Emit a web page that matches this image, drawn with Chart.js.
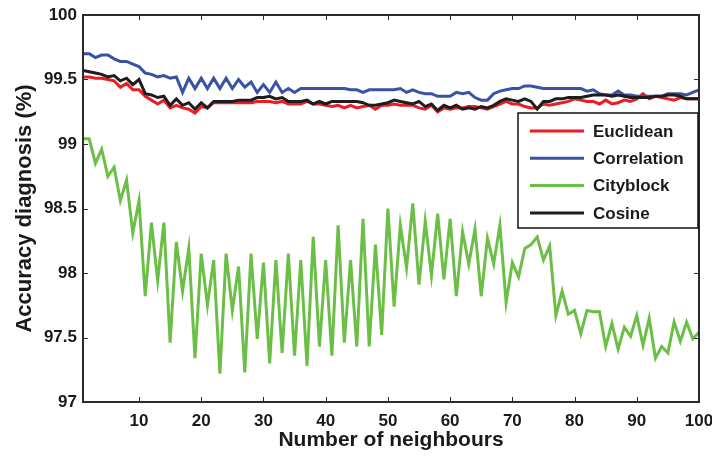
<!DOCTYPE html>
<html>
<head>
<meta charset="utf-8">
<script src="https://cdn.jsdelivr.net/npm/chart.js@4/dist/chart.umd.min.js"></script>
<style>
html,body{margin:0;padding:0;background:#fff;}
#wrap{width:712px;height:456px;position:relative;}
</style>
</head>
<body>
<div id="wrap"><canvas id="c" width="712" height="456"></canvas></div>
<script>
// ---- data ----
const neighbours = [1,2,3,4,5,6,7,8,9,10,11,12,13,14,15,16,17,18,19,20,21,22,23,24,25,26,27,28,29,30,31,32,33,34,35,36,37,38,39,40,41,42,43,44,45,46,47,48,49,50,51,52,53,54,55,56,57,58,59,60,61,62,63,64,65,66,67,68,69,70,71,72,73,74,75,76,77,78,79,80,81,82,83,84,85,86,87,88,89,90,91,92,93,94,95,96,97,98,99,100];

const euclidean = [
 99.52,99.52,99.51,99.51,99.50,99.49,99.44,99.47,99.42,99.42,
 99.37,99.34,99.31,99.34,99.28,99.30,99.28,99.27,99.24,99.29,
 99.28,99.32,99.32,99.32,99.32,99.32,99.32,99.32,99.33,99.33,
 99.33,99.32,99.33,99.31,99.31,99.31,99.33,99.31,99.31,99.30,
 99.29,99.30,99.28,99.30,99.28,99.29,99.30,99.27,99.30,99.30,
 99.31,99.30,99.30,99.30,99.28,99.27,99.30,99.25,99.28,99.27,
 99.28,99.28,99.29,99.29,99.28,99.27,99.29,99.31,99.33,99.31,
 99.31,99.29,99.28,99.28,99.31,99.30,99.31,99.32,99.33,99.35,
 99.34,99.33,99.33,99.31,99.34,99.31,99.32,99.34,99.33,99.35,
 99.39,99.35,99.37,99.36,99.35,99.34,99.36,99.35,99.35,99.35];

const correlation = [
 99.70,99.70,99.67,99.69,99.69,99.66,99.64,99.64,99.62,99.60,
 99.55,99.54,99.52,99.53,99.51,99.52,99.40,99.51,99.43,99.51,
 99.43,99.51,99.43,99.51,99.43,99.50,99.44,99.48,99.40,99.46,
 99.40,99.48,99.40,99.43,99.40,99.43,99.43,99.43,99.43,99.43,
 99.43,99.43,99.43,99.42,99.42,99.40,99.42,99.42,99.42,99.42,
 99.42,99.43,99.40,99.42,99.40,99.39,99.39,99.37,99.37,99.37,
 99.40,99.39,99.40,99.36,99.34,99.34,99.39,99.41,99.42,99.43,
 99.43,99.45,99.45,99.44,99.43,99.43,99.43,99.43,99.43,99.43,
 99.43,99.41,99.42,99.39,99.38,99.38,99.41,99.38,99.38,99.37,
 99.37,99.37,99.37,99.37,99.39,99.39,99.39,99.38,99.40,99.42];

const cityblock = [
 99.04,99.04,98.85,98.96,98.75,98.82,98.56,98.72,98.31,98.56,
 97.82,98.39,97.94,98.39,97.46,98.24,97.86,98.19,97.34,98.15,
 97.75,98.10,97.22,98.15,97.71,98.05,97.23,98.15,97.49,98.08,
 97.30,98.10,97.38,98.15,97.36,98.10,97.28,98.28,97.43,98.10,
 97.36,98.37,97.46,98.10,97.43,98.42,97.43,98.22,97.52,98.50,
 97.74,98.37,98.04,98.54,97.91,98.40,97.98,98.46,97.95,98.42,
 97.82,98.32,98.07,98.34,97.82,98.27,98.07,98.37,97.77,98.08,
 97.97,98.19,98.22,98.28,98.10,98.21,97.67,97.86,97.68,97.71,
 97.53,97.71,97.70,97.70,97.43,97.61,97.41,97.58,97.51,97.67,
 97.44,97.65,97.34,97.43,97.38,97.62,97.47,97.62,97.49,97.54];

const cosine = [
 99.57,99.56,99.55,99.54,99.52,99.53,99.49,99.51,99.46,99.50,
 99.39,99.38,99.36,99.37,99.30,99.35,99.30,99.32,99.27,99.32,
 99.28,99.33,99.33,99.33,99.33,99.34,99.34,99.34,99.36,99.36,
 99.37,99.35,99.36,99.33,99.33,99.33,99.34,99.31,99.33,99.31,
 99.33,99.33,99.33,99.33,99.33,99.32,99.30,99.30,99.31,99.32,
 99.34,99.33,99.32,99.31,99.33,99.29,99.31,99.26,99.30,99.28,
 99.30,99.27,99.28,99.27,99.29,99.28,99.30,99.33,99.35,99.34,
 99.33,99.35,99.33,99.27,99.33,99.33,99.35,99.35,99.36,99.36,
 99.36,99.37,99.38,99.38,99.38,99.37,99.38,99.37,99.36,99.36,
 99.36,99.36,99.37,99.37,99.38,99.38,99.37,99.35,99.35,99.35];

const seriesNames = ['Euclidean','Correlation','Cityblock','Cosine'];
const xTicks = [10,20,30,40,50,60,70,80,90,100];
const yTicks = [97,97.5,98,98.5,99,99.5,100];

// ---- styling ----
const colors = ['#ed1c24','#3953a4','#6cbf46','#1e1c1d'];
const FONT = '"Liberation Sans", Arial, Helvetica, sans-serif';

const seriesData = [euclidean, correlation, cityblock, cosine];
const datasets = seriesData.map((arr, i) => ({
  label: seriesNames[i],
  data: arr.map((v, j) => ({x: neighbours[j], y: v})),
  borderColor: colors[i],
  backgroundColor: colors[i],
  borderWidth: 3,
  pointRadius: 0,
  tension: 0,
  fill: false
}));
const order = [2, 0, 1, 3];
order.forEach((idx, k) => { datasets[idx].order = 4 - k; });

const framePlugin = {
  id: 'frame',
  afterDatasetsDraw(chart) {
    const {ctx, chartArea: {left, right, top, bottom}, scales: {x, y}} = chart;
    ctx.save();
    ctx.strokeStyle = '#2b2b2b';
    ctx.lineWidth = 1;
    const L = 5;
    ctx.beginPath();
    x.ticks.forEach(t => {
      const px = Math.round(x.getPixelForValue(t.value)) + 0.5;
      ctx.moveTo(px, bottom); ctx.lineTo(px, bottom - L);
      ctx.moveTo(px, top); ctx.lineTo(px, top + L);
    });
    y.ticks.forEach(t => {
      const py = Math.round(y.getPixelForValue(t.value)) + 0.5;
      ctx.moveTo(left, py); ctx.lineTo(left + L, py);
      ctx.moveTo(right, py); ctx.lineTo(right - L, py);
    });
    ctx.stroke();
    ctx.lineWidth = 2;
    ctx.strokeRect(left, top, right - left, bottom - top);
    ctx.restore();
  }
};

const legendPlugin = {
  id: 'boxLegend',
  afterDraw(chart) {
    const {ctx} = chart;
    const bx = 518, by = 113, bw = 180, bh = 115;
    ctx.save();
    ctx.fillStyle = '#fff';
    ctx.fillRect(bx, by, bw, bh);
    ctx.strokeStyle = '#111';
    ctx.lineWidth = 1.5;
    ctx.strokeRect(bx, by, bw, bh);
    ctx.font = 'bold 17px ' + FONT;
    ctx.textBaseline = 'middle';
    ctx.textAlign = 'left';
    chart.data.datasets.forEach((ds, i) => {
      const cy = by + 18 + i * 27.3;
      ctx.strokeStyle = ds.borderColor;
      ctx.lineWidth = 3;
      ctx.beginPath();
      ctx.moveTo(bx + 12, cy);
      ctx.lineTo(bx + 66, cy);
      ctx.stroke();
      ctx.fillStyle = '#1a1a1a';
      ctx.fillText(ds.label, bx + 75, cy + 1);
    });
    ctx.restore();
  }
};

new Chart(document.getElementById('c'), {
  type: 'line',
  data: {datasets},
  options: {
    responsive: false,
    animation: false,
    layout: {padding: {left: 0, top: 15, right: 13, bottom: 0}},
    plugins: {legend: {display: false}, tooltip: {enabled: false}},
    scales: {
      x: {
        type: 'linear',
        min: 1, max: 100,
        afterBuildTicks(s) { s.ticks = xTicks.map(v => ({value: v})); },
        afterFit(s) { s.height = 54; s.paddingLeft = 0; s.paddingRight = 0; },
        grid: {display: false, drawTicks: false},
        border: {display: false},
        ticks: {
          padding: 9,
          maxRotation: 0,
          autoSkip: false,
          color: '#1a1a1a',
          font: {family: FONT, size: 17, weight: 'bold'},
          callback: v => String(v)
        },
        title: {
          display: true,
          text: 'Number of neighbours',
          color: '#1a1a1a',
          font: {family: FONT, size: 21, weight: 'bold'},
          padding: {top: 0, bottom: 3}
        }
      },
      y: {
        type: 'linear',
        min: 97, max: 100,
        afterBuildTicks(s) { s.ticks = yTicks.map(v => ({value: v})); },
        afterFit(s) { s.width = 83; s.paddingTop = 0; s.paddingBottom = 0; },
        grid: {display: false, drawTicks: false},
        border: {display: false},
        ticks: {
          padding: 6,
          autoSkip: false,
          color: '#1a1a1a',
          font: {family: FONT, size: 17, weight: 'bold'},
          callback: v => String(v)
        },
        title: {
          display: true,
          text: 'Accuracy diagnosis (%)',
          color: '#1a1a1a',
          font: {family: FONT, size: 22, weight: 'bold'},
          padding: {top: 12, bottom: 0}
        }
      }
    }
  },
  plugins: [framePlugin, legendPlugin]
});
</script>
</body>
</html>
